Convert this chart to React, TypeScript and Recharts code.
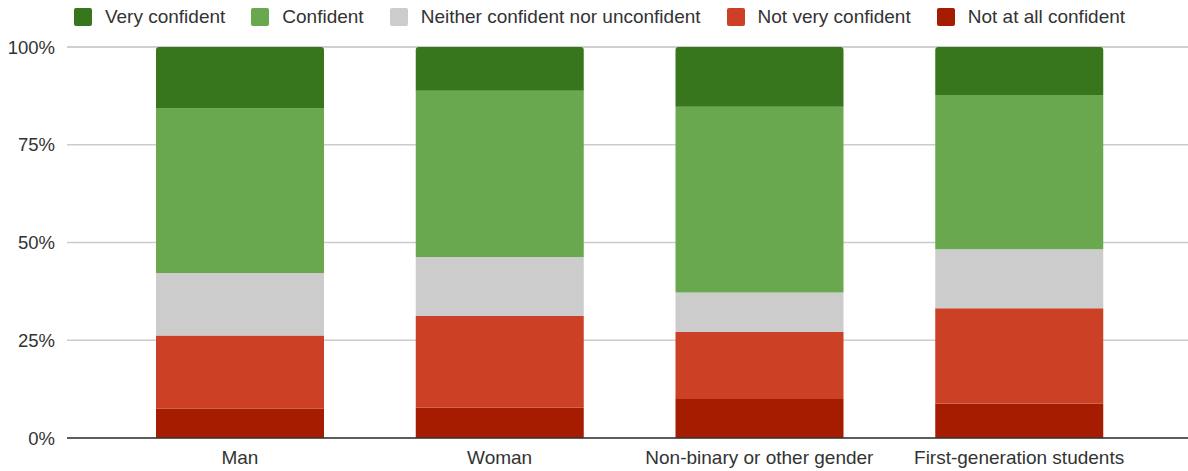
import { BarChart, Bar, XAxis, YAxis, CartesianGrid } from 'recharts';

const categories = ['Man', 'Woman', 'Non-binary or other gender', 'First-generation students'];

// percent of respondents
const veryConfident      = [15.7, 11.2, 15.3, 12.3];
const confident          = [42.1, 42.5, 47.5, 39.4];
const neither            = [16.0, 15.1, 10.1, 15.1];
const notVeryConfident   = [18.7, 23.4, 17.1, 24.4];
const notAtAllConfident  = [7.5, 7.8, 10.0, 8.8];

const yTicks = [0, 25, 50, 75, 100];

const SERIES = [
  { key: 'notAtAll', name: 'Not at all confident', color: '#a61c00', values: notAtAllConfident },
  { key: 'notVery', name: 'Not very confident', color: '#cc4125', values: notVeryConfident },
  { key: 'neither', name: 'Neither confident nor unconfident', color: '#cccccc', values: neither },
  { key: 'confident', name: 'Confident', color: '#6aa84f', values: confident },
  { key: 'very', name: 'Very confident', color: '#38761d', values: veryConfident },
];

const FONT = '"Liberation Sans", Arial, sans-serif';
const TEXT = '#333333';

const data = categories.map((c, i) => {
  const row: Record<string, string | number> = { name: c };
  SERIES.forEach((s) => { row[s.key] = s.values[i]; });
  return row;
});

export default function App() {
  const legendItems = [...SERIES].reverse();

  return (
    <div style={{ position: 'absolute', left: 0, top: 0, width: 1188, height: 471, background: '#fff', fontFamily: FONT }}>
      {/* legend */}
      <div
        style={{
          position: 'absolute', left: 0, top: 6, width: 1188, height: 21, paddingLeft: 11, boxSizing: 'border-box',
          display: 'flex', justifyContent: 'center', alignItems: 'center', gap: 26,
          fontSize: 19, color: TEXT, whiteSpace: 'nowrap',
        }}
      >
        {legendItems.map((s) => (
          <div key={s.key} style={{ display: 'flex', alignItems: 'center', gap: 13 }}>
            <span style={{ width: 18, height: 18, borderRadius: 2, background: s.color, display: 'inline-block' }} />
            <span>{s.name}</span>
          </div>
        ))}
      </div>

      <BarChart
        width={1188}
        height={471}
        data={data}
        margin={{ top: 47, right: 0, bottom: 0, left: 0 }}
        barSize={168}
      >
        <CartesianGrid horizontal vertical={false} stroke="#cccccc" strokeWidth={1.3} />
        <XAxis
          dataKey="name"
          height={33}
          padding={{ left: 43, right: 39 }}
          tickLine={false}
          tickSize={0}
          tickMargin={13}
          axisLine={{ stroke: '#333333', strokeWidth: 1.3 }}
          tick={{ fontSize: 19, fill: TEXT, fontFamily: FONT }}
          interval={0}
        />
        <YAxis
          width={67}
          domain={[0, 100]}
          ticks={yTicks}
          tickFormatter={(v) => `${v}%`}
          axisLine={false}
          tickLine={false}
          tickSize={0}
          tickMargin={12}
          tick={{ fontSize: 18.5, fill: TEXT, fontFamily: FONT }}
        />
        {SERIES.map((s, i) => (
          <Bar
            key={s.key}
            dataKey={s.key}
            name={s.name}
            stackId="a"
            fill={s.color}
            radius={i === SERIES.length - 1 ? [3, 3, 0, 0] : 0}
            isAnimationActive={false}
          />
        ))}
      </BarChart>
    </div>
  );
}
